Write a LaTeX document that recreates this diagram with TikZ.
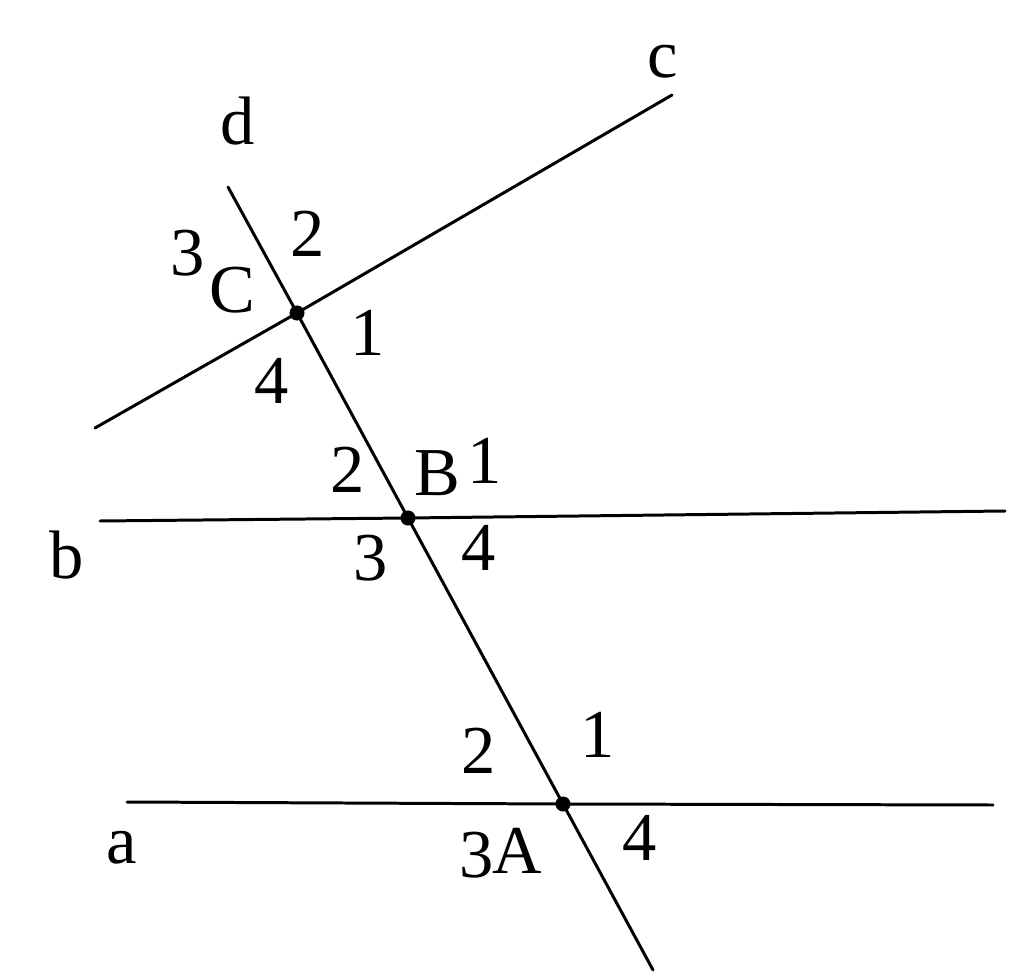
\documentclass[tikz,border=0pt]{standalone}
\usepackage{fontspec}
\setmainfont{Liberation Serif}
\usetikzlibrary{arrows}

\begin{document}
\begin{tikzpicture}[line cap=round,line join=round,x=0.01cm,y=-0.01cm,
  lbl/.style={anchor=base,inner sep=0pt,font=\fontsize{19.5}{23}\selectfont},
  ln/.style={line width=0.85pt}]
\useasboundingbox (0,0) rectangle (1024,979);
% points on the lines
\coordinate (C) at (297,313);
\coordinate (B) at (408,518);
\coordinate (A) at (563,804);
\coordinate (d1) at (228,187);
\coordinate (d2) at (653,970);
\coordinate (c1) at (95,428);
\coordinate (c2) at (672,95);
\coordinate (b1) at (100,521);
\coordinate (b2) at (1005,511);
\coordinate (a1) at (127,802);
\coordinate (a2) at (993,805);
\draw [ln] (d1)--(C)--(B)--(A)--(d2);
\draw [ln] (c1)--(C)--(c2);
\draw [ln] (b1)--(B)--(b2);
\draw [ln] (a1)--(A)--(a2);
\fill (C) circle (0.075cm);
\fill (B) circle (0.075cm);
\fill (A) circle (0.075cm);
% line names
\node[lbl] (lc) at (663,78) {c};
\node[lbl] (ld) at (238,145) {d};
\node[lbl] (lb) at (67,578) {b};
\node[lbl] (la) at (122,863) {a};
% angles at C
\node[lbl] (nC) at (232,313) {C};
\node[lbl] (C3) at (188,275) {3};
\node[lbl] (C2) at (308,257) {2};
\node[lbl] (C1) at (368,355) {1};
\node[lbl] (C4) at (272,403) {4};
% angles at B
\node[lbl] (nB) at (437,495) {B};
\node[lbl] (B2) at (348,492) {2};
\node[lbl] (B1) at (485,483) {1};
\node[lbl] (B3) at (371,580) {3};
\node[lbl] (B4) at (479,570) {4};
% angles at A
\node[lbl] (nA) at (517,873) {A};
\node[lbl] (A2) at (479,773) {2};
\node[lbl] (A1) at (598,757) {1};
\node[lbl] (A3) at (477,877) {3};
\node[lbl] (A4) at (640,860) {4};
\end{tikzpicture}
\end{document}
